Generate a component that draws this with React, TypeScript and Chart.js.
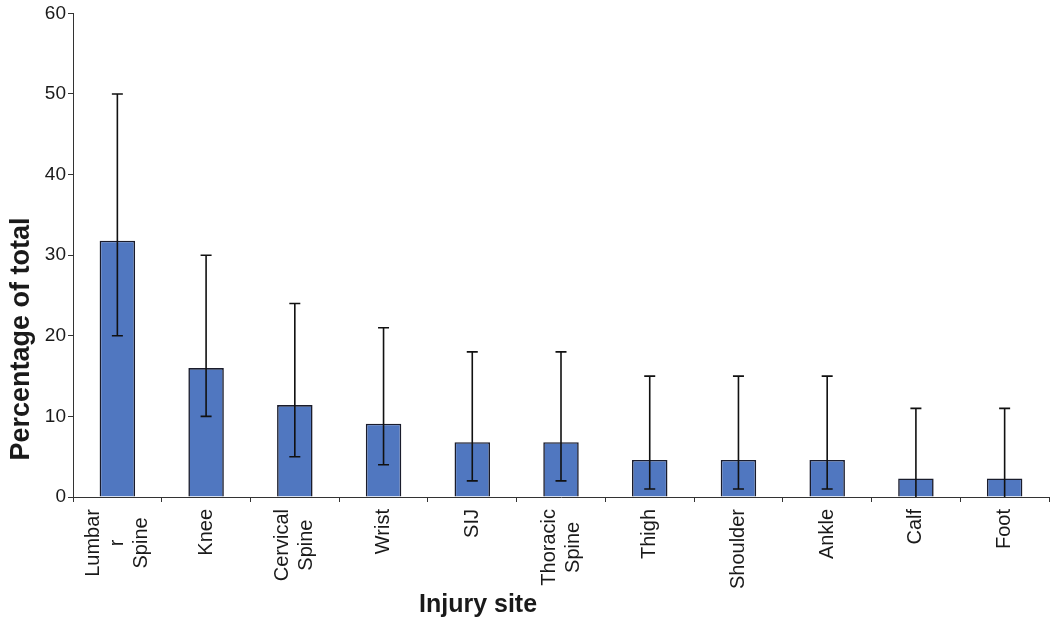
import React, { useEffect, useRef } from "react";
import { Chart, registerables } from "chart.js";

Chart.register(...registerables);

const categories: (string | string[])[] = [
  ["Lumbar", "r", "Spine"],
  "Knee",
  ["Cervical", "Spine"],
  "Wrist",
  "SIJ",
  ["Thoracic", "Spine"],
  "Thigh",
  "Shoulder",
  "Ankle",
  "Calf",
  "Foot",
];
const percentValues = [31.8, 16, 11.4, 9.1, 6.8, 6.8, 4.6, 4.6, 4.6, 2.3, 2.3];
const errorLow = [20, 10, 5, 4, 2, 2, 1, 1, 1, 0, 0];
const errorHigh = [50, 30, 24, 21, 18, 18, 15, 15, 15, 11, 11];
const yTicks = [0, 10, 20, 30, 40, 50, 60];
const yTitle = "Percentage of total";
const xTitle = "Injury site";

const FONT = '"Liberation Sans", Arial, sans-serif';
const TEXT = "#1a1a1a";

const errorBarPlugin = {
  id: "errorBars",
  afterDatasetsDraw(chart: any) {
    const meta = chart.getDatasetMeta(0);
    const y = chart.scales.y;
    const ctx = chart.ctx;
    ctx.save();
    ctx.strokeStyle = "#111111";
    ctx.lineWidth = 1.6;
    meta.data.forEach((bar: any, i: number) => {
      const x = bar.x;
      const yl = y.getPixelForValue(errorLow[i]);
      const yh = y.getPixelForValue(errorHigh[i]);
      ctx.beginPath();
      ctx.moveTo(x, yl);
      ctx.lineTo(x, yh);
      ctx.moveTo(x - 5.5, yh);
      ctx.lineTo(x + 5.5, yh);
      if (errorLow[i] > 0) {
        ctx.moveTo(x - 5.5, yl);
        ctx.lineTo(x + 5.5, yl);
      }
      ctx.stroke();
    });
    ctx.restore();
  },
};

// Draws the rotated category labels (multi-line blocks centred on each tick)
const xLabelsPlugin = {
  id: "xLabels",
  afterDraw(chart: any) {
    const ctx = chart.ctx;
    const xs = chart.scales.x;
    const lineH = 24;
    const top = xs.top + 12;
    ctx.save();
    ctx.fillStyle = TEXT;
    ctx.font = `20px ${FONT}`;
    ctx.textBaseline = "middle";
    ctx.textAlign = "right";
    categories.forEach((lab, i) => {
      const lines = Array.isArray(lab) ? lab : [lab];
      const cx = xs.getPixelForTick(i);
      const widths = lines.map((l) => ctx.measureText(l).width);
      const maxW = Math.max(...widths);
      lines.forEach((l, k) => {
        const lx = cx + (k - (lines.length - 1) / 2) * lineH;
        const ly = top + (maxW - widths[k]) / 2;
        ctx.save();
        ctx.translate(lx, ly);
        ctx.rotate(-Math.PI / 2);
        ctx.fillText(l, 0, 0);
        ctx.restore();
      });
    });
    ctx.restore();
  },
};

const titlesPlugin = {
  id: "axisTitles",
  afterDraw(chart: any) {
    const ctx = chart.ctx;
    const area = chart.chartArea;
    ctx.save();
    ctx.fillStyle = TEXT;
    ctx.textAlign = "center";
    ctx.textBaseline = "middle";
    ctx.font = `bold 27px ${FONT}`;
    ctx.save();
    ctx.translate(22, 339);
    ctx.rotate(-Math.PI / 2);
    ctx.fillText(yTitle, 0, 0);
    ctx.restore();
    ctx.font = `bold 25px ${FONT}`;
    ctx.fillText(xTitle, area.left + 0.415 * (area.right - area.left), 605);
    ctx.restore();
  },
};

export default function App() {
  const ref = useRef<HTMLCanvasElement>(null);
  useEffect(() => {
    document.body.style.margin = "0";
    const chart = new Chart(ref.current!, {
      type: "bar",
      data: {
        labels: categories,
        datasets: [
          {
            data: percentValues,
            backgroundColor: "#5077c0",
            borderColor: "#1a1c2c",
            borderWidth: 1.6,
            barPercentage: 0.4,
            categoryPercentage: 1,
          },
        ],
      },
      options: {
        animation: false,
        responsive: true,
        maintainAspectRatio: false,
        layout: { padding: { top: 12, right: 1, left: 0, bottom: 0 } },
        plugins: {
          legend: { display: false },
          tooltip: { enabled: false },
        },
        scales: {
          x: {
            afterFit(scale: any) {
              scale.height = 125;
            },
            grid: {
              offset: true,
              drawOnChartArea: false,
              drawTicks: true,
              tickLength: 5,
              color: "#333333",
            },
            border: { display: true, color: "#333333", width: 1 },
            ticks: { display: false },
          },
          y: {
            min: 0,
            max: 60,
            afterFit(scale: any) {
              scale.width = 73;
            },
            afterBuildTicks(scale: any) {
              scale.ticks = yTicks.map((v) => ({ value: v }));
            },
            grid: {
              drawOnChartArea: false,
              drawTicks: true,
              tickLength: 5,
              color: "#333333",
            },
            border: { display: true, color: "#333333", width: 1 },
            ticks: {
              padding: 2,
              color: TEXT,
              font: { family: FONT, size: 19 },
            },
          },
        },
      },
      plugins: [errorBarPlugin, xLabelsPlugin, titlesPlugin],
    });
    return () => chart.destroy();
  }, []);
  return (
    <div style={{ position: "fixed", left: 0, top: 0, width: 1050, height: 622, background: "#ffffff" }}>
      <canvas ref={ref} />
    </div>
  );
}
